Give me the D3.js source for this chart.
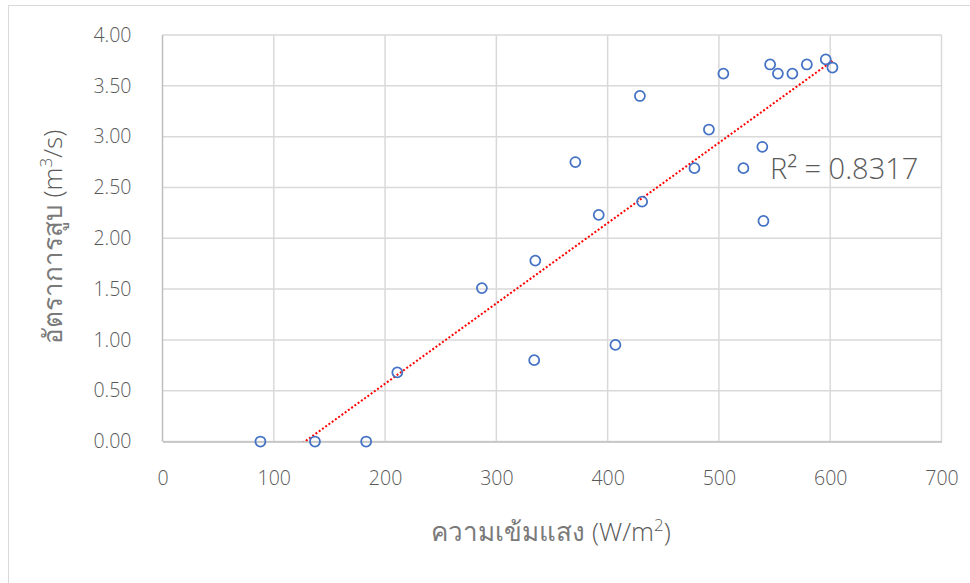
<!DOCTYPE html>
<html>
<head>
<meta charset="utf-8">
<script src="https://cdn.jsdelivr.net/npm/d3@7"></script>
<style>
  body { margin: 0; background: #fff; }
  text { font-family: "Open Sans", "Noto Sans", sans-serif; font-weight: 300; fill: #595959; }
  .thai { font-family: "Noto Sans", sans-serif; font-weight: 200; fill: #7a7a7a; }
</style>
</head>
<body>
<svg id="canvas" width="970" height="583"></svg>
<script>
// light intensity (W/m2) vs pumping rate (m3/s)
let lightValues = [88, 137, 183, 211, 287, 334, 335, 371, 392, 407, 429, 431, 478, 491, 504, 522, 539, 540, 546, 553, 566, 579, 596, 602]
let pumpValues = [0, 0, 0, 0.68, 1.51, 0.80, 1.78, 2.75, 2.23, 0.95, 3.40, 2.36, 2.69, 3.07, 3.62, 2.69, 2.90, 2.17, 3.71, 3.62, 3.62, 3.71, 3.76, 3.68]
let xTicks = [0, 100, 200, 300, 400, 500, 600, 700]
let yTicks = [0, 0.5, 1, 1.5, 2, 2.5, 3, 3.5, 4]
let rSquaredLabel = 'R² = 0.8317'

let canvas = d3.select('#canvas')

let margin = { left: 162.5, right: 28.5, top: 35, bottom: 141.5 }
let width = 970 - margin.left - margin.right
let height = 583 - margin.top - margin.bottom

// chart frame (only top and left edges show in the crop)
canvas.append('rect')
    .attr('x', 8.5)
    .attr('y', 5.5)
    .attr('width', 1100)
    .attr('height', 700)
    .attr('fill', 'none')
    .attr('stroke', '#d9d9d9')
    .attr('stroke-width', 1)

let xScale = d3.scaleLinear().domain([0, 700]).range([0, width])
let yScale = d3.scaleLinear().domain([0, 4]).range([height, 0])

let plot = canvas.append('g')
    .attr('transform', 'translate(' + margin.left + ',' + margin.top + ')')

plot.append('clipPath')
    .attr('id', 'plotClip')
    .append('rect')
    .attr('width', width)
    .attr('height', height)

// gridlines
plot.selectAll('.hgrid')
    .data(yTicks)
    .enter()
    .append('line')
    .attr('class', 'hgrid')
    .attr('x1', 0)
    .attr('x2', width)
    .attr('y1', (d) => yScale(d))
    .attr('y2', (d) => yScale(d))
    .attr('stroke', '#d9d9d9')
    .attr('stroke-width', 1.5)

plot.selectAll('.vgrid')
    .data(xTicks)
    .enter()
    .append('line')
    .attr('class', 'vgrid')
    .attr('x1', (d) => xScale(d))
    .attr('x2', (d) => xScale(d))
    .attr('y1', 0)
    .attr('y2', height)
    .attr('stroke', (d) => d === 0 ? '#bfbfbf' : '#d9d9d9')
    .attr('stroke-width', 1.5)

// axes
let xAxis = d3.axisBottom(xScale)
    .tickValues(xTicks)
    .tickSize(0)
    .tickPadding(30)
    .tickFormat(d3.format('d'))

let yAxis = d3.axisLeft(yScale)
    .tickValues(yTicks)
    .tickSize(0)
    .tickPadding(31)
    .tickFormat(d3.format('.2f'))

plot.append('g')
    .attr('transform', 'translate(0,' + height + ')')
    .call(xAxis)
    .call((g) => g.select('.domain').attr('stroke', '#bfbfbf').attr('stroke-width', 1.5))
    .selectAll('text')
    .style('font-size', '19.5px')
    .attr('fill', '#595959')

plot.append('g')
    .call(yAxis)
    .call((g) => g.select('.domain').remove())
    .selectAll('text')
    .style('font-size', '19.5px')
    .attr('fill', '#595959')

// linear trendline (least squares), clipped to the plot area
let meanX = d3.mean(lightValues)
let meanY = d3.mean(pumpValues)
let sxy = d3.sum(lightValues, (x, i) => (x - meanX) * (pumpValues[i] - meanY))
let sxx = d3.sum(lightValues, (x) => (x - meanX) * (x - meanX))
let slope = sxy / sxx
let intercept = meanY - slope * meanX
let x0 = d3.min(lightValues)
let x1 = d3.max(lightValues)

plot.append('line')
    .attr('clip-path', 'url(#plotClip)')
    .attr('x1', xScale(x0))
    .attr('y1', yScale(intercept + slope * x0))
    .attr('x2', xScale(x1))
    .attr('y2', yScale(intercept + slope * x1))
    .attr('stroke', '#ff0000')
    .attr('stroke-width', 2)
    .attr('stroke-dasharray', '2,2')

// points
plot.selectAll('circle')
    .data(lightValues)
    .enter()
    .append('circle')
    .attr('cx', (d) => xScale(d))
    .attr('cy', (d, i) => yScale(pumpValues[i]))
    .attr('r', 5)
    .attr('fill', 'none')
    .attr('stroke', '#4472c4')
    .attr('stroke-width', 1.75)

// R squared label
plot.append('text')
    .attr('x', 770 - margin.left)
    .attr('y', 179 - margin.top)
    .style('font-size', '29px')
    .text(rSquaredLabel)

// axis titles
let xTitle = canvas.append('text')
    .attr('x', 551)
    .attr('y', 541)
    .attr('text-anchor', 'middle')
    .style('font-size', '26px')
xTitle.append('tspan').attr('class', 'thai').text('ความเข้มแสง')
xTitle.append('tspan').text(' (W/m')
xTitle.append('tspan').attr('dy', -10).style('font-size', '17px').text('2')
xTitle.append('tspan').attr('dy', 10).text(')')

let yTitle = canvas.append('text')
    .attr('transform', 'translate(62,237) rotate(-90)')
    .attr('text-anchor', 'middle')
    .style('font-size', '26px')
yTitle.append('tspan').attr('class', 'thai').text('อัตราการสูบ')
yTitle.append('tspan').text(' (m')
yTitle.append('tspan').attr('dy', -10).style('font-size', '17px').text('3')
yTitle.append('tspan').attr('dy', 10).text('/s)')
</script>
</body>
</html>
